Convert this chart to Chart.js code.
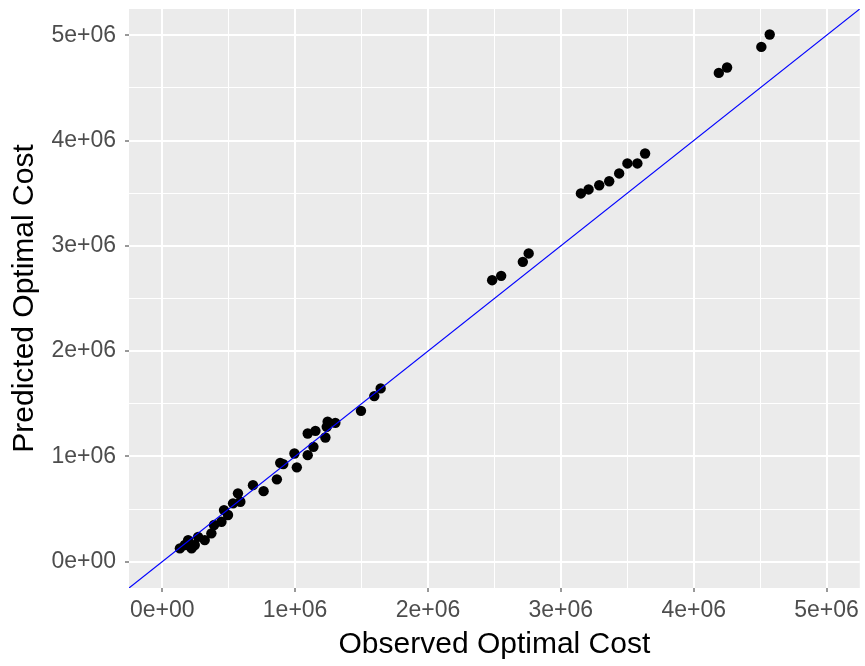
<!DOCTYPE html>
<html>
<head>
<meta charset="utf-8">
<title>Observed vs Predicted Optimal Cost</title>
<script src="https://cdn.jsdelivr.net/npm/chart.js@4/dist/chart.umd.min.js"></script>
<style>
  html, body { margin: 0; padding: 0; background: #ffffff; }
  #wrap { width: 865px; height: 666px; }
</style>
</head>
<body>
<div id="wrap"><canvas id="chart" width="865" height="666"></canvas></div>
<script>
// Observed vs predicted optimal cost per case
const observedCost = [
  133000, 170000, 195000, 221000, 245000, 270000, 320000, 370000, 390000, 446000,
  465000, 495000, 533000, 570000, 588000, 683000, 763000, 863000, 888000, 911000,
  995000, 1013000, 1095000, 1095000, 1138000, 1153000, 1228000, 1238000, 1245000, 1303000,
  1496000, 1596000, 1644000,
  2483000, 2551000, 2714000, 2758000,
  3151000, 3209000, 3289000, 3364000, 3439000, 3501000, 3576000, 3634000,
  4189000, 4251000, 4509000, 4572000
];
const predictedCost = [
  126000, 158000, 205000, 126000, 158000, 236000, 205000, 269000, 348000, 379000,
  490000, 443000, 554000, 649000, 569000, 727000, 670000, 782000, 939000, 927000,
  1028000, 896000, 1012000, 1218000, 1091000, 1243000, 1180000, 1281000, 1329000, 1319000,
  1433000, 1573000, 1646000,
  2674000, 2715000, 2848000, 2928000,
  3498000, 3536000, 3576000, 3614000, 3688000, 3783000, 3783000, 3877000,
  4643000, 4694000, 4890000, 5008000
];

// Identity reference line (predicted = observed)
const refLineX = [-250000, 5250000];
const refLineY = [-250000, 5250000];

// Axis range and tick positions
const axisMin = -250000;
const axisMax = 5250000;
const tickValues = [0, 500000, 1000000, 1500000, 2000000, 2500000, 3000000, 3500000, 4000000, 4500000, 5000000];

const isMajor = v => Math.abs(v % 1000000) < 1;
const sciLabel = v => {
  if (v === 0) return '0e+00';
  const m = v / 1000000;
  return m + 'e+06';
};

const panelBackground = {
  id: 'panelBackground',
  beforeDraw(chart) {
    const { ctx, chartArea: a } = chart;
    ctx.save();
    ctx.fillStyle = '#EBEBEB';
    ctx.fillRect(a.left, a.top, a.right - a.left, a.bottom - a.top);
    ctx.restore();
  }
};

const gridOpts = {
  color: '#FFFFFF',
  lineWidth: c => (isMajor(c.tick.value) ? 2 : 1),
  tickColor: c => (isMajor(c.tick.value) ? '#333333' : 'rgba(0,0,0,0)'),
  tickLength: 4,
  tickWidth: 1,
  drawTicks: true,
  drawOnChartArea: true
};

const setTicks = scale => {
  scale.ticks = tickValues.map(v => ({ value: v }));
};

const tickFont = { family: '"Liberation Sans", Arial, sans-serif', size: 23 };
const titleFont = { family: '"Liberation Sans", Arial, sans-serif', size: 30 };

new Chart(document.getElementById('chart'), {
  type: 'scatter',
  data: {
    datasets: [
      {
        type: 'line',
        data: refLineX.map((x, i) => ({ x: x, y: refLineY[i] })),
        borderColor: '#0000FF',
        borderWidth: 1.2,
        pointRadius: 0,
        fill: false,
        order: 0
      },
      {
        data: observedCost.map((x, i) => ({ x: x, y: predictedCost[i] })),
        backgroundColor: '#000000',
        borderColor: '#000000',
        borderWidth: 0,
        pointRadius: 5.2,
        order: 1
      }
    ]
  },
  options: {
    responsive: false,
    animation: false,
    devicePixelRatio: 1,
    layout: { padding: { top: 9, right: 3, left: 0, bottom: 0 } },
    plugins: {
      legend: { display: false },
      tooltip: { enabled: false }
    },
    scales: {
      x: {
        type: 'linear',
        min: axisMin,
        max: axisMax,
        afterBuildTicks: setTicks,
        afterFit: s => {
          s.height = 78;
          s.paddingLeft = 0;
          s.paddingRight = 0;
        },
        grid: gridOpts,
        border: { display: false },
        ticks: {
          autoSkip: false,
          maxRotation: 0,
          padding: 5,
          color: '#4D4D4D',
          font: tickFont,
          callback: v => (isMajor(v) ? sciLabel(v) : '')
        },
        title: {
          display: true,
          text: 'Observed Optimal Cost',
          color: '#000000',
          font: titleFont,
          padding: { top: 0, bottom: 3 }
        }
      },
      y: {
        type: 'linear',
        min: axisMin,
        max: axisMax,
        afterBuildTicks: setTicks,
        afterFit: s => {
          s.width = 129;
          s.paddingTop = 0;
          s.paddingBottom = 0;
        },
        grid: gridOpts,
        border: { display: false },
        ticks: {
          autoSkip: false,
          padding: 9,
          color: '#4D4D4D',
          font: tickFont,
          callback: v => (isMajor(v) ? sciLabel(v) : '')
        },
        title: {
          display: true,
          text: 'Predicted Optimal Cost',
          color: '#000000',
          font: titleFont,
          padding: { top: 7, bottom: 0 }
        }
      }
    }
  },
  plugins: [panelBackground]
});
</script>
</body>
</html>
